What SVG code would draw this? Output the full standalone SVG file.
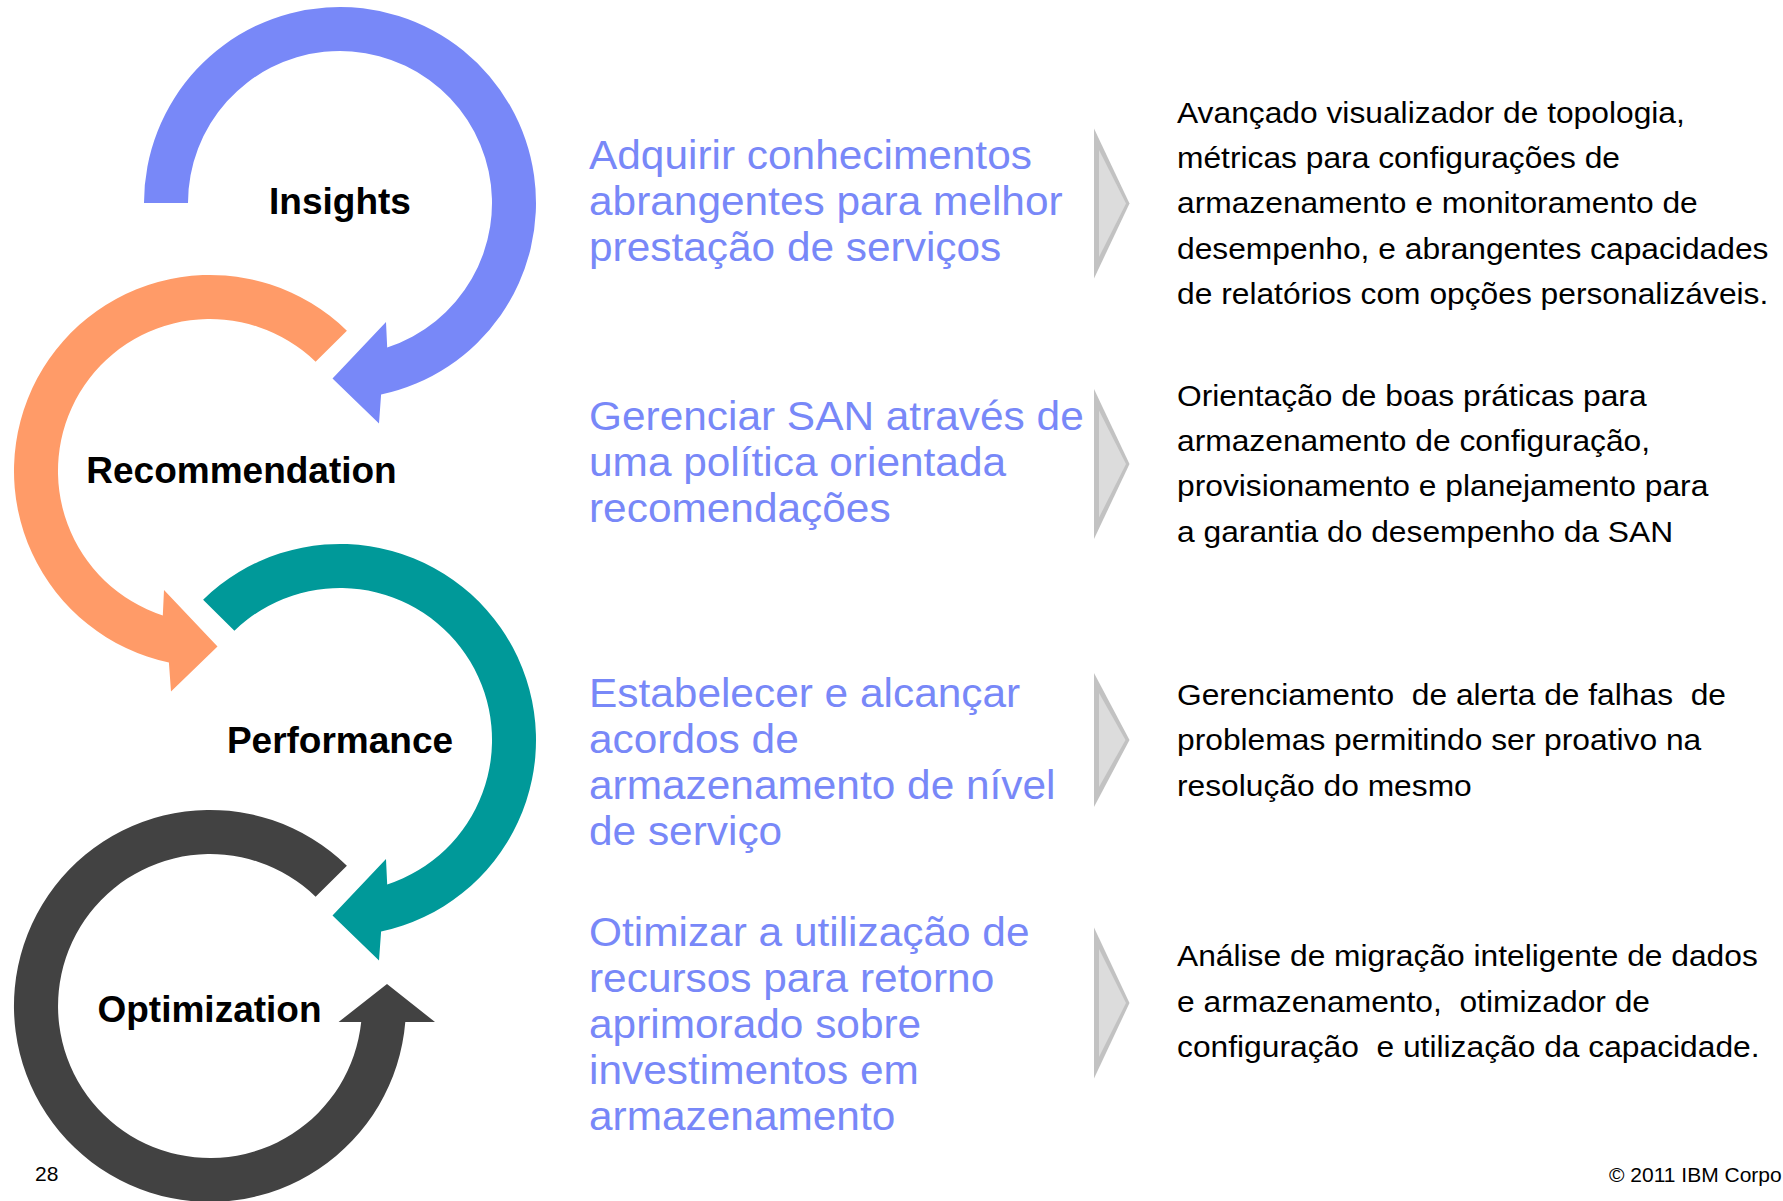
<svg xmlns="http://www.w3.org/2000/svg" width="1783" height="1201" viewBox="0 0 1783 1201">
<style>
.lbl{font-family:"Liberation Sans",Arial,sans-serif;font-weight:bold;font-size:37px;fill:#000;text-anchor:middle}
.mid{font-family:"Liberation Sans",Arial,sans-serif;font-size:40px;fill:#7888F8}
.desc{font-family:"Liberation Sans",Arial,sans-serif;font-size:29.5px;fill:#000;white-space:pre}
.foot{font-family:"Liberation Sans",Arial,sans-serif;font-size:21px;fill:#000}
.chev-o{fill:#C2C2C2}
.chev-i{fill:#DCDCDC}
</style>
<rect width="1783" height="1201" fill="#FFFFFF"/>

<g id="insights">
<path fill="#7888F8" d="M144,203 A196,196 0 1 1 381.1,394.6 L379,423.5 L332.5,378.5 L386,322 L387.2,347.5 A152,152 0 1 0 188,203 Z"/>
<text class="lbl" x="340" y="214">Insights</text>
</g>

<g id="recommendation">
<path fill="#FF9B68" d="M346.9,330.7 A196,196 0 1 0 168.9,662.6 L171,691.5 L217.5,646.5 L164,590 L162.8,615.5 A152,152 0 1 1 315.6,361.7 Z"/>
<text class="lbl" x="241.5" y="483">Recommendation</text>
</g>

<g id="performance">
<path fill="#009999" d="M203.1,599.7 A196,196 0 1 1 381.1,931.6 L379,960.5 L332.5,915.5 L386,859 L387.2,884.5 A152,152 0 1 0 234.4,630.7 Z"/>
<text class="lbl" x="340" y="753">Performance</text>
</g>

<g id="optimization">
<path fill="#424242" d="M346.9,865.7 A196,196 0 1 0 405.3,1022 L435,1022 L387,984 L338.6,1022 L361.2,1022 A152,152 0 1 1 315.6,896.7 Z"/>
<text class="lbl" x="209.5" y="1022">Optimization</text>
</g>

<g id="goal-insights" transform="translate(589 0) scale(1.06 1)">
<text class="mid"><tspan x="0" y="169">Adquirir conhecimentos</tspan><tspan x="0" y="215">abrangentes para melhor</tspan><tspan x="0" y="261">prestação de serviços</tspan></text>
</g>
<g id="goal-recommendation" transform="translate(589 0) scale(1.06 1)">
<text class="mid"><tspan x="0" y="430">Gerenciar SAN através de</tspan><tspan x="0" y="476">uma política orientada</tspan><tspan x="0" y="522">recomendações</tspan></text>
</g>
<g id="goal-performance" transform="translate(589 0) scale(1.06 1)">
<text class="mid"><tspan x="0" y="707">Estabelecer e alcançar</tspan><tspan x="0" y="753">acordos de</tspan><tspan x="0" y="799">armazenamento de nível</tspan><tspan x="0" y="845">de serviço</tspan></text>
</g>
<g id="goal-optimization" transform="translate(589 0) scale(1.06 1)">
<text class="mid"><tspan x="0" y="946">Otimizar a utilização de</tspan><tspan x="0" y="992">recursos para retorno</tspan><tspan x="0" y="1038">aprimorado sobre</tspan><tspan x="0" y="1084">investimentos em</tspan><tspan x="0" y="1130">armazenamento</tspan></text>
</g>

<g id="connectors">
<polygon class="chev-o" points="1094,128.5 1129.5,203.5 1094,278.5"/>
<polygon class="chev-i" points="1099,150 1126,203.5 1099,257"/>
<polygon class="chev-o" points="1094,389 1129.5,464 1094,539"/>
<polygon class="chev-i" points="1099,410.5 1126,464 1099,517.5"/>
<polygon class="chev-o" points="1094,673 1129.5,740 1094,807"/>
<polygon class="chev-i" points="1099,693 1125.5,740 1099,787"/>
<polygon class="chev-o" points="1094,927.5 1129.5,1003 1094,1078.5"/>
<polygon class="chev-i" points="1099,949 1126,1003 1099,1057"/>
</g>

<g id="detail-insights" transform="translate(1177 0) scale(1.077 1)">
<text class="desc"><tspan x="0" y="122.7">Avançado visualizador de topologia,</tspan><tspan x="0" y="168">métricas para configurações de</tspan><tspan x="0" y="213.3">armazenamento e monitoramento de</tspan><tspan x="0" y="258.6">desempenho, e abrangentes capacidades</tspan><tspan x="0" y="303.9">de relatórios com opções personalizáveis.</tspan></text>
</g>
<g id="detail-recommendation" transform="translate(1177 0) scale(1.077 1)">
<text class="desc"><tspan x="0" y="405.8">Orientação de boas práticas para</tspan><tspan x="0" y="451.1">armazenamento de configuração,</tspan><tspan x="0" y="496.4">provisionamento e planejamento para</tspan><tspan x="0" y="541.7">a garantia do desempenho da SAN</tspan></text>
</g>
<g id="detail-performance" transform="translate(1177 0) scale(1.077 1)">
<text class="desc"><tspan x="0" y="705">Gerenciamento  de alerta de falhas  de</tspan><tspan x="0" y="750.3">problemas permitindo ser proativo na</tspan><tspan x="0" y="795.6">resolução do mesmo</tspan></text>
</g>
<g id="detail-optimization" transform="translate(1177 0) scale(1.077 1)">
<text class="desc"><tspan x="0" y="966.5">Análise de migração inteligente de dados</tspan><tspan x="0" y="1011.8">e armazenamento,  otimizador de</tspan><tspan x="0" y="1057.1">configuração  e utilização da capacidade.</tspan></text>
</g>

<g id="footer">
<text class="foot" x="35" y="1181">28</text>
<text class="foot" x="1609" y="1181.5" font-size="21.5">© 2011 IBM Corpo</text>
</g>
</svg>
